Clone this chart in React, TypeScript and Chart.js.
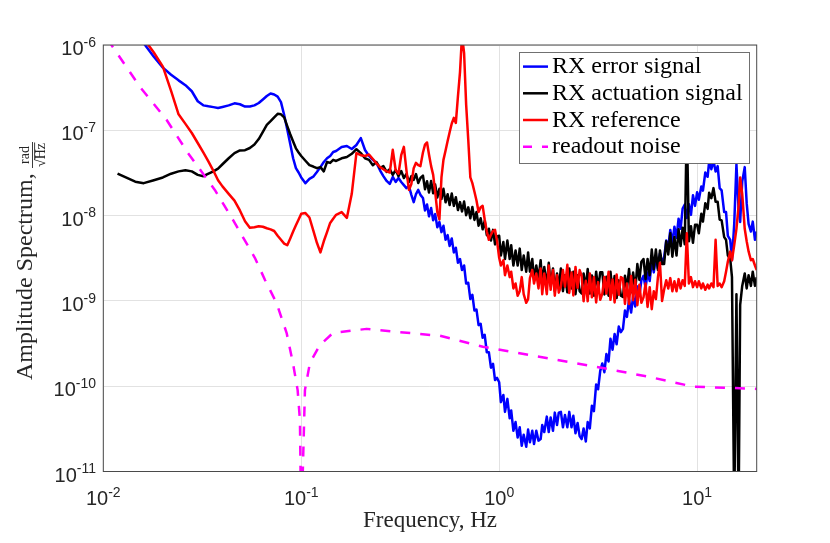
import { useEffect, useRef } from "react";
import { Chart, registerables } from "chart.js";

Chart.register(...registerables);

// Amplitudes are in nrad/√Hz, converted to rad/√Hz when the datasets are built.
const frequency = [
  // 0.01 - 0.1 Hz
  0.0118, 0.013, 0.0145, 0.016, 0.018, 0.02, 0.022, 0.024, 0.026, 0.028,
  0.03, 0.032, 0.034, 0.036, 0.038, 0.04, 0.043, 0.046, 0.049, 0.052,
  0.055, 0.058, 0.061, 0.064, 0.067, 0.07, 0.073, 0.076, 0.079, 0.082,
  0.085, 0.088, 0.091, 0.094, 0.097,
  // 0.1 - 0.4 Hz
  0.1, 0.105, 0.11, 0.115, 0.12, 0.125, 0.13, 0.135, 0.14, 0.145, 0.15,
  0.16, 0.17, 0.18, 0.19, 0.2, 0.21, 0.22, 0.23, 0.24, 0.25, 0.26, 0.27, 0.28,
  0.29, 0.3, 0.31, 0.32, 0.33, 0.34, 0.35, 0.36, 0.37, 0.38, 0.39, 0.4,
  // 0.4 - 1 Hz
  0.412, 0.422, 0.432, 0.442, 0.453, 0.464, 0.475, 0.487, 0.499, 0.511,
  0.523, 0.536, 0.549, 0.562, 0.576, 0.59, 0.604, 0.619, 0.634, 0.649,
  0.665, 0.681, 0.698, 0.715, 0.732, 0.75, 0.768, 0.787, 0.806, 0.825,
  0.845, 0.866, 0.887, 0.909, 0.931, 0.953, 0.976,
  // 1 - 10 Hz
  1.0, 1.02, 1.05, 1.07, 1.1, 1.13, 1.15, 1.18, 1.21, 1.24,
  1.27, 1.3, 1.33, 1.37, 1.4, 1.43, 1.47, 1.5, 1.54, 1.58,
  1.62, 1.65, 1.69, 1.74, 1.78, 1.82, 1.87, 1.91, 1.96, 2.0,
  2.05, 2.1, 2.15, 2.21, 2.26, 2.32, 2.37, 2.43, 2.49, 2.55,
  2.61, 2.67, 2.74, 2.8, 2.87, 2.94, 3.01, 3.09, 3.16, 3.24,
  3.32, 3.4, 3.48, 3.57, 3.65, 3.74, 3.83, 3.92, 4.02, 4.12,
  4.22, 4.32, 4.42, 4.53, 4.64, 4.75, 4.87, 4.99, 5.11, 5.23,
  5.36, 5.49, 5.62, 5.76, 5.9, 6.04, 6.19, 6.34, 6.49, 6.65,
  6.81, 6.98, 7.15, 7.32, 7.5, 7.68, 7.87, 8.06, 8.25, 8.45,
  8.66, 8.87, 9.09, 9.31, 9.53, 9.76,
  // 10 - 20 Hz
  10.0, 10.2, 10.5, 10.7, 11.0, 11.3, 11.5, 11.8, 12.1, 12.4,
  12.7, 13.0, 13.3, 13.7, 14.0, 14.3, 14.7, 15.0, 15.4, 15.8,
  16.2, 16.5, 16.9, 17.4, 17.8, 18.2, 18.7, 19.1, 19.6, 20.0,
];

const errorSignal = [
  2700, 2000, 1420, 1050, 730, 543, 448, 385, 338, 287,
  219, 196, 191, 187, 183, 188, 196, 207, 202, 190,
  190, 196, 209, 230, 252, 270, 263, 248, 214, 151,
  102, 69, 47, 36, 32,
  28, 24, 27, 28.6, 32.5, 37, 42.5, 47, 50, 55.7, 57.2,
  63.7, 65.5, 60.4, 67.3, 81, 58.8, 50, 45, 41.4, 34, 29, 25.5, 23.5,
  28.4, 24.8, 27.6, 24.8, 22.8, 21, 22.2, 17.5, 14.4, 17.9, 20, 17.5,
  16.1, 11.5, 13.5, 9.8, 12.3, 8.8, 10.4, 7.3, 8.4, 6.4,
  7.6, 5.2, 5.9, 4.4, 5.4, 3.7, 4.2, 2.8, 3.1, 2.3,
  2.6, 1.6, 1.63, 1.05, 1.18, 0.77, 0.79, 0.52, 0.54, 0.37,
  0.4, 0.25, 0.25, 0.165, 0.183, 0.118, 0.125,
  0.111, 0.065, 0.079, 0.05, 0.071, 0.042, 0.052, 0.03, 0.038, 0.025,
  0.033, 0.02, 0.027, 0.0195, 0.031, 0.022, 0.03, 0.021, 0.03, 0.023,
  0.024, 0.035, 0.029, 0.044, 0.029, 0.043, 0.03, 0.049, 0.035, 0.049,
  0.05, 0.033, 0.046, 0.033, 0.05, 0.033, 0.045, 0.028, 0.037, 0.026,
  0.024, 0.032, 0.0225, 0.038, 0.032, 0.059, 0.051, 0.105, 0.092, 0.151,
  0.185, 0.146, 0.238, 0.195, 0.359, 0.268, 0.41, 0.31, 0.5, 0.43,
  0.47, 0.77, 0.65, 1.03, 0.73, 1.13, 0.86, 1.48, 1.16, 1.75,
  1.97, 1.42, 2.15, 1.71, 2.95, 2.16, 3.31, 2.39, 3.6, 2.9,
  3.2, 5.1, 4.3, 6.8, 4.8, 7.4, 5.5, 9.2, 7.0, 12.1,
  13.5, 9.4, 13.6, 10.2, 17.3, 13.0,
  18.8, 15.3, 22, 19.6, 32, 28.5, 43, 35, 44, 32.8,
  38, 21, 19.8, 11, 11, 5.8, 5.2, 3.0, 8, 40,
  12, 8.4, 25, 37, 14, 8, 6.5, 8.5, 5.2, 6.5,
];

const actuationSignal = [
  31, 28, 25, 24, 26, 28, 31, 33, 34, 33,
  30, 29, 31, 33, 35.5, 40, 47, 54, 58, 58.5,
  62, 68, 79, 96, 116, 128, 142, 156, 154, 142,
  112, 90, 74, 61.5, 55,
  50, 44, 39, 37.6, 36, 37, 33, 42.5, 41.5, 45, 43.7,
  47, 48.6, 53, 60, 54, 47, 45, 39, 42.5, 36, 38, 32.5, 35,
  30, 34.3, 29, 33.3, 27.6, 30.7, 24.8, 29, 26.2, 30.7, 24.1, 27.6,
  29.4, 20.4, 25.3, 18.7, 25.5, 18.3, 23.1, 16.3, 20.6, 15.7,
  20.6, 14.3, 17.8, 13.3, 18.2, 13.0, 16.4, 11.6, 14.4, 11.2,
  14.6, 10.1, 12.5, 9.3, 12.6, 8.9, 11.0, 7.6, 9.3, 6.9,
  8.7, 5.9, 7.0, 5.1, 6.8, 4.6, 5.7,
  5.8, 3.4, 4.9, 3.1, 5.1, 3.1, 4.5, 2.6, 3.9, 2.6,
  4.1, 2.3, 3.4, 2.2, 3.7, 2.2, 3.1, 1.8, 2.6, 1.8,
  3.0, 1.6, 2.5, 1.5, 2.8, 1.5, 2.4, 1.3, 2.1, 1.4,
  2.4, 1.3, 2.0, 1.26, 2.4, 1.4, 2.2, 1.2, 2.0, 1.3,
  1.22, 2.1, 1.42, 2.36, 1.22, 1.98, 1.15, 2.2, 1.38, 2.16,
  2.16, 1.19, 1.92, 1.15, 2.2, 1.26, 1.96, 1.08, 1.74, 1.15,
  1.11, 1.97, 1.38, 2.36, 1.26, 2.15, 1.33, 2.7, 1.76, 2.88,
  3.1, 1.8, 3.1, 2.0, 4.0, 2.35, 4.0, 2.3, 3.9, 2.7,
  2.7, 5.0, 3.5, 6.2, 3.3, 5.6, 3.4, 6.9, 4.4, 7.2,
  4.6, 130, 5.0, 7.5, 4.8, 7.8,
  7.8, 6.2, 10.5, 8.5, 14, 12, 18.5, 16, 21, 14.5,
  14.5, 9, 8.8, 5.6, 5.2, 3.4, 3.1, 1.9, 0.003, 1.2,
  0.003, 0.9, 1.5, 2.1, 1.4, 2.0, 1.5, 2.2, 1.5, 1.9,
];

const referenceSignal = [
  3200, 2290, 1620, 1190, 817, 557, 290, 154, 119, 93,
  71, 55, 43, 33.5, 26, 22, 18, 15, 11.5, 8.6,
  7.2, 7.3, 7.5, 7.4, 7.1, 6.9, 6.6, 5.8, 5.2, 4.7,
  4.5, 5.4, 6.5, 7.7, 9.0,
  10.5, 10.7, 9.5, 6.7, 4.8, 3.7, 5.0, 6.4, 8.2, 9.2, 10.2,
  11, 9.4, 18, 54, 51, 50, 52, 46, 41, 37, 35, 33, 32,
  59, 34, 31, 51, 64, 34, 20, 23.5, 36, 41.6, 39, 38,
  55, 68, 72, 52, 38, 30, 19, 11, 9, 28,
  45, 58, 75, 95, 120, 140, 122, 250, 480, 1300,
  800, 200, 77, 28, 24, 19, 15, 11, 12.5, 13,
  9, 6.5, 5.2, 6.0, 6.6, 6.8, 5.0,
  3.2, 2.6, 3.0, 2.0, 2.6, 1.9, 2.2, 1.4, 1.6, 1.15,
  1.3, 1.9, 1.2, 0.95, 1.05, 1.85, 2.3, 1.6, 2.1, 1.4,
  2.4, 1.2, 2.1, 1.2, 2.6, 1.35, 2.3, 1.15, 2.0, 1.25,
  1.47, 2.3, 1.47, 2.65, 1.24, 2.15, 1.16, 2.5, 1.42, 2.3,
  1.97, 0.99, 1.72, 0.99, 2.1, 1.1, 1.9, 0.96, 1.66, 1.03,
  1.22, 1.91, 1.22, 2.19, 1.03, 1.78, 0.96, 2.04, 1.18, 1.9,
  1.83, 0.92, 1.6, 0.92, 1.96, 1.02, 1.77, 0.89, 1.55, 0.95,
  1.1, 1.6, 0.85, 1.45, 0.8, 1.3, 1.05, 1.9, 2.8, 1.0,
  1.35, 1.75, 1.4, 1.85, 1.3, 1.7, 1.3, 1.8, 1.4, 1.75,
  1.5, 6.2, 1.6, 1.9, 1.45, 1.7,
  1.45, 1.7, 1.4, 1.6, 1.35, 1.55, 1.4, 1.6, 1.45, 5.2,
  1.5, 1.6, 1.45, 1.7, 2.2, 2.9, 3.8, 3.0, 4.5, 7,
  13, 28, 18, 7, 5, 3.8, 3.0, 3.1, 2.6, 2.3,
];

const noiseFrequency = [
  0.0105, 0.011, 0.0153, 0.0209, 0.0268, 0.0366, 0.0452, 0.0583, 0.0656,
  0.0751, 0.0844, 0.0908, 0.0959, 0.0985, 0.1, 0.1044, 0.1106, 0.1243,
  0.1445, 0.214, 0.315, 0.502, 0.827, 3.34, 5.77, 9.5, 20,
];
const readoutNoise = [
  1180, 1000, 324, 132, 54, 20, 8.9, 3.2, 1.76,
  0.94, 0.42, 0.187, 0.09, 0.04, 0.002, 0.09, 0.187, 0.304,
  0.42, 0.47, 0.43, 0.39, 0.29, 0.163, 0.128, 0.099, 0.093,
];

const xTicks = [0.01, 0.1, 1, 10];
const yTicks = [1e-11, 1e-10, 1e-9, 1e-8, 1e-7, 1e-6];

const legendItems = [
  { label: "RX error signal", color: "#0000ff", dash: [] as number[] },
  { label: "RX actuation signal", color: "#000000", dash: [] as number[] },
  { label: "RX reference", color: "#ff0000", dash: [] as number[] },
  { label: "readout noise", color: "#ff00ff", dash: [9, 10] },
];

const toPoints = (f: number[], amp: number[]) =>
  f.map((x, i) => ({ x, y: amp[i] * 1e-9 }));

const textColor = "#262626";

function powerLabel(ctx: CanvasRenderingContext2D, exp: number, x: number, y: number, align: "right" | "center") {
  const base = "10";
  const label = exp < 0 ? "-" + String(-exp) : String(exp);
  ctx.font = "20px 'Liberation Sans'";
  const wb = ctx.measureText(base).width;
  ctx.font = "14px 'Liberation Sans'";
  const ws = ctx.measureText(label).width;
  const total = wb + ws;
  const start = align === "right" ? x - total : x - total / 2;
  ctx.textAlign = "left";
  ctx.textBaseline = "alphabetic";
  ctx.font = "20px 'Liberation Sans'";
  ctx.fillText(base, start, y);
  ctx.font = "14px 'Liberation Sans'";
  ctx.fillText(label, start + wb, y - 8.2);
}

const decorations = {
  id: "decorations",
  afterDatasetsDraw(chart: Chart) {
    const { ctx, chartArea: a } = chart;
    const xs = chart.scales.x;
    const ys = chart.scales.y;
    ctx.save();

    // axes box
    ctx.strokeStyle = "#4a4a4a";
    ctx.lineWidth = 1;
    ctx.setLineDash([]);
    ctx.strokeRect(a.left, a.top, a.right - a.left, a.bottom - a.top);

    // tick labels
    ctx.fillStyle = textColor;
    yTicks.forEach((v) => {
      const py = ys.getPixelForValue(v);
      powerLabel(ctx, Math.round(Math.log10(v)), 96, py + 10, "right");
    });
    xTicks.forEach((v) => {
      const px = xs.getPixelForValue(v);
      powerLabel(ctx, Math.round(Math.log10(v)), px, a.bottom + 33.5, "center");
    });

    // x title
    ctx.font = "23px 'Liberation Serif'";
    ctx.textAlign = "center";
    ctx.fillText("Frequency, Hz", (a.left + a.right) / 2, 527);

    // y title with fraction
    ctx.save();
    ctx.translate(32, 380);
    ctx.rotate(-Math.PI / 2);
    ctx.textAlign = "left";
    ctx.font = "24px 'Liberation Serif'";
    ctx.fillText("Amplitude Spectrum,", 0, 0);
    const fc = 225;
    ctx.font = "14px 'Liberation Serif'";
    ctx.textAlign = "center";
    ctx.fillText("rad", fc, -3);
    ctx.strokeStyle = textColor;
    ctx.lineWidth = 0.9;
    ctx.beginPath();
    ctx.moveTo(fc - 13, 0.5);
    ctx.lineTo(fc + 13, 0.5);
    ctx.stroke();
    const wr = ctx.measureText("√").width;
    const wh = ctx.measureText("Hz").width;
    const u0 = fc - (wr + wh) / 2;
    ctx.textAlign = "left";
    ctx.fillText("√", u0, 13);
    ctx.fillText("Hz", u0 + wr, 13);
    ctx.beginPath();
    ctx.moveTo(u0 + wr - 0.5, 2.6);
    ctx.lineTo(u0 + wr + wh + 0.5, 2.6);
    ctx.stroke();
    ctx.restore();

    // legend
    const lx = 519;
    const ly = 52;
    ctx.fillStyle = "#ffffff";
    ctx.fillRect(lx, ly, 230, 111);
    ctx.strokeStyle = "#707070";
    ctx.lineWidth = 1;
    ctx.strokeRect(lx + 0.5, ly + 0.5, 230, 111);
    ctx.font = "24px 'Liberation Serif'";
    ctx.textAlign = "left";
    legendItems.forEach((item, i) => {
      const base = 73.3 + i * 26.7;
      ctx.strokeStyle = item.color;
      ctx.lineWidth = 2.5;
      ctx.setLineDash(item.dash);
      ctx.beginPath();
      ctx.moveTo(523, base - 6.7);
      ctx.lineTo(548, base - 6.7);
      ctx.stroke();
      ctx.setLineDash([]);
      ctx.fillStyle = "#000000";
      ctx.fillText(item.label, 552, base);
    });

    ctx.restore();
  },
};

export default function App() {
  const chartRef = useRef<HTMLCanvasElement | null>(null);

  useEffect(() => {
    document.body.style.margin = "0";
    const canvas = chartRef.current;
    if (!canvas) return;

    const line = (label: string, data: { x: number; y: number }[], color: string, order: number, dash: number[] = []) => ({
      label,
      data,
      borderColor: color,
      backgroundColor: color,
      borderWidth: 2.5,
      borderDash: dash,
      borderJoinStyle: "round" as const,
      pointRadius: 0,
      tension: 0,
      fill: false,
      order,
    });

    const chart = new Chart(canvas, {
      type: "line",
      data: {
        datasets: [
          line("RX error signal", toPoints(frequency, errorSignal), "#0000ff", 4),
          line("RX actuation signal", toPoints(frequency, actuationSignal), "#000000", 3),
          line("RX reference", toPoints(frequency, referenceSignal), "#ff0000", 2),
          line("readout noise", toPoints(noiseFrequency, readoutNoise), "#ff00ff", 1, [10, 10]),
        ],
      },
      options: {
        animation: false,
        responsive: true,
        maintainAspectRatio: false,
        layout: { padding: { top: 45, right: 73.3, left: 0, bottom: 0 } },
        plugins: {
          legend: { display: false },
          tooltip: { enabled: false },
        },
        scales: {
          x: {
            type: "logarithmic",
            min: 0.01,
            max: 20,
            afterBuildTicks: (scale: any) => {
              scale.ticks = xTicks.map((v) => ({ value: v }));
            },
            afterFit: (scale: any) => {
              scale.height = 71.5;
            },
            ticks: { display: false },
            grid: { color: "#e2e2e2", drawTicks: false },
            border: { display: false },
          },
          y: {
            type: "logarithmic",
            min: 1e-11,
            max: 1e-6,
            afterBuildTicks: (scale: any) => {
              scale.ticks = yTicks.map((v) => ({ value: v }));
            },
            afterFit: (scale: any) => {
              scale.width = 103.3;
            },
            ticks: { display: false },
            grid: { color: "#e2e2e2", drawTicks: false },
            border: { display: false },
          },
        },
      },
      plugins: [decorations],
    });

    return () => {
      chart.destroy();
    };
  }, []);

  return (
    <div style={{ width: 830, height: 543, position: "relative", background: "#ffffff" }}>
      <canvas ref={chartRef} />
    </div>
  );
}
